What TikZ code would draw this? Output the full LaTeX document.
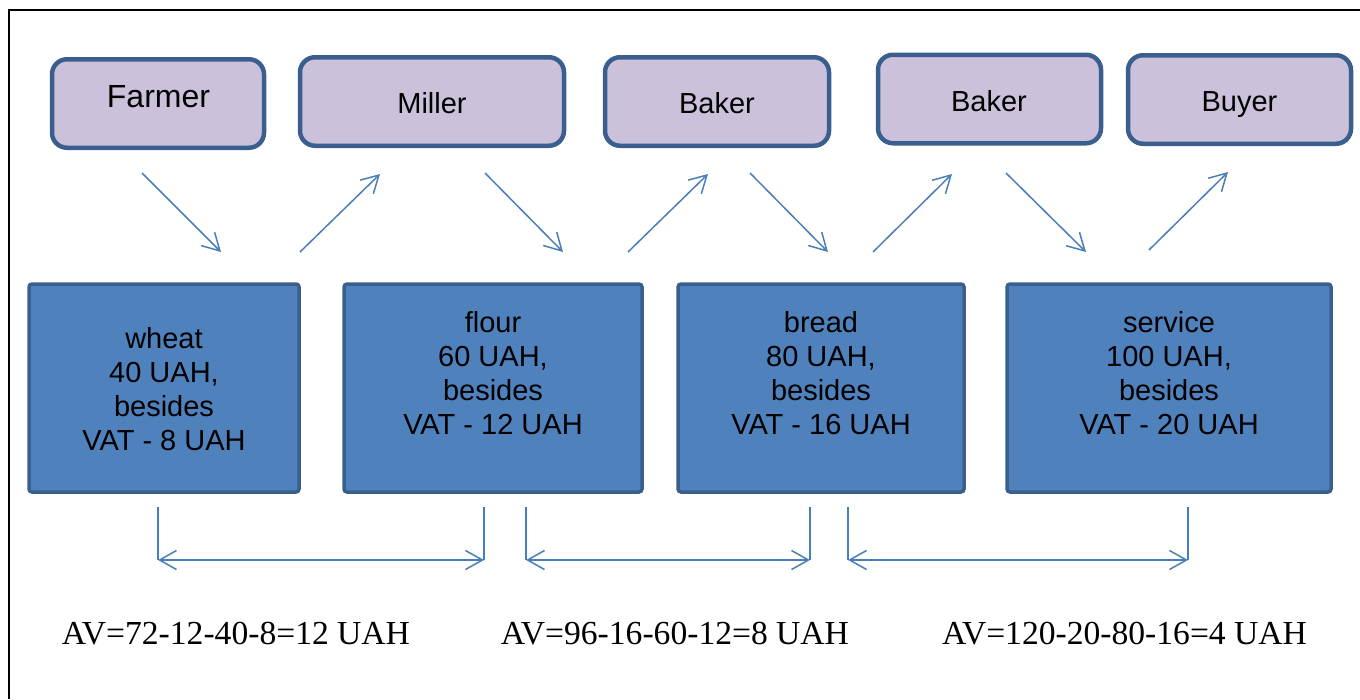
\documentclass[tikz,border=0pt]{standalone}
\usepackage{fontspec}
\setmainfont{Liberation Sans}
\newfontfamily\avfont{Liberation Serif}
\usetikzlibrary{arrows.meta}
\definecolor{lav}{HTML}{CBC1DA}
\definecolor{edgeblue}{HTML}{3A5F8E}
\definecolor{boxblue}{HTML}{4F81BD}
\definecolor{arrblue}{HTML}{4A7EBB}
\begin{document}
\begin{tikzpicture}[x=1pt,y=-1pt,
  actorbox/.style={draw=edgeblue, line width=4.5pt, fill=lav, rounded corners=15pt, inner sep=0pt, minimum height=88.5pt},
  actortext/.style={anchor=base, inner sep=0pt, font=\fontsize{29}{34}\selectfont},
  goodsbox/.style={draw=edgeblue, line width=3.5pt, fill=boxblue, rounded corners=3pt, inner sep=0pt, minimum height=208pt},
  goodstext/.style={anchor=base, inner sep=0pt, font=\fontsize{29}{34}\selectfont},
  flowarrow/.style={draw=arrblue, line width=1.5pt, -{Straight Barb[length=17pt,width=19pt]}},
  spanline/.style={draw=arrblue, line width=1.5pt},
  spanarrow/.style={draw=arrblue, line width=1.5pt, {Straight Barb[length=17pt,width=19pt]}-{Straight Barb[length=17pt,width=19pt]}},
  avtext/.style={anchor=base, inner sep=0pt, font=\avfont\fontsize{33.6}{38}\selectfont}
]
\useasboundingbox (0,0) rectangle (1360,699);
\draw[line width=2pt] (9,699) -- (9,10) -- (1360,10);

% actor boxes
\node[actorbox, minimum width=212pt] (farmer) at (158,103.5) {};
\node[actorbox, minimum width=264pt] (miller) at (432,101.5) {};
\node[actorbox, minimum width=224pt] (baker1) at (717,101.5) {};
\node[actorbox, minimum width=223pt] (baker2) at (989.5,99) {};
\node[actorbox, minimum width=223pt] (buyer) at (1239.5,99.5) {};
\node[actortext, font=\fontsize{32}{37}\selectfont] (farmerT) at (158.5,107) {Farmer};
\node[actortext] (millerT) at (432,113) {Miller};
\node[actortext] (baker1T) at (717,113) {Baker};
\node[actortext] (baker2T) at (989,111) {Baker};
\node[actortext] (buyerT) at (1239.5,111) {Buyer};

% goods boxes
\node[goodsbox, minimum width=270pt] (wheat) at (164,388) {};
\node[goodsbox, minimum width=298pt] (flour) at (493,388) {};
\node[goodsbox, minimum width=286pt] (bread) at (821,388) {};
\node[goodsbox, minimum width=324pt] (service) at (1169,388) {};
\node[goodstext] (wheatT) at (164,348) {\begin{tabular}[t]{@{}c@{}}wheat\\40 UAH,\\besides\\VAT - 8 UAH\end{tabular}};
\node[goodstext] (flourT) at (493,332) {\begin{tabular}[t]{@{}c@{}}flour\\60 UAH,\\besides\\VAT - 12 UAH\end{tabular}};
\node[goodstext] (breadT) at (821,332) {\begin{tabular}[t]{@{}c@{}}bread\\80 UAH,\\besides\\VAT - 16 UAH\end{tabular}};
\node[goodstext] (serviceT) at (1169,332) {\begin{tabular}[t]{@{}c@{}}service\\100 UAH,\\besides\\VAT - 20 UAH\end{tabular}};

% diagonal flow arrows
\coordinate (d1s) at (142,173); \coordinate (d1e) at (221,252);
\coordinate (d2s) at (300,252); \coordinate (d2e) at (380,174);
\coordinate (d3s) at (485,173); \coordinate (d3e) at (563,252);
\coordinate (d4s) at (628,252); \coordinate (d4e) at (708,174);
\coordinate (d5s) at (750,173); \coordinate (d5e) at (828,252);
\coordinate (d6s) at (873,252); \coordinate (d6e) at (952,174);
\coordinate (d7s) at (1006,173); \coordinate (d7e) at (1086,252);
\coordinate (d8s) at (1149,250); \coordinate (d8e) at (1228,172);
\foreach \i in {1,...,8} {\draw[flowarrow] (d\i s) -- (d\i e);}

% spans
\coordinate (s1a) at (158,507); \coordinate (s1b) at (158,560);
\coordinate (s1c) at (484,507); \coordinate (s1d) at (484,560);
\coordinate (s2a) at (526,507); \coordinate (s2b) at (526,560);
\coordinate (s2c) at (810,507); \coordinate (s2d) at (810,560);
\coordinate (s3a) at (848,507); \coordinate (s3b) at (848,560);
\coordinate (s3c) at (1188,507); \coordinate (s3d) at (1188,560);
\foreach \i in {1,2,3} {
  \draw[spanline] (s\i a) -- (s\i b);
  \draw[spanline] (s\i c) -- (s\i d);
  \draw[spanarrow] (s\i b) -- (s\i d);
}

% AV texts
\node[avtext] (av1) at (236,644) {AV=72-12-40-8=12 UAH};
\node[avtext] (av2) at (675,644) {AV=96-16-60-12=8 UAH};
\node[avtext] (av3) at (1124.5,644) {AV=120-20-80-16=4 UAH};
\end{tikzpicture}
\end{document}
